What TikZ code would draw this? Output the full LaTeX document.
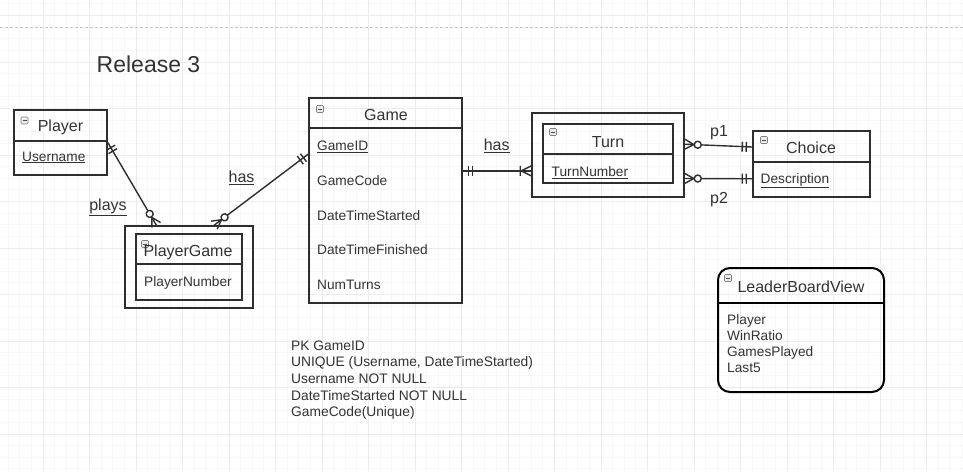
\documentclass[tikz,border=0pt]{standalone}
\usepackage{fontspec}
\setmainfont{Liberation Sans}
\usetikzlibrary{decorations.markings}
\definecolor{erline}{HTML}{2E2E2E}
\definecolor{ertext}{HTML}{333333}
\definecolor{gridminor}{HTML}{F7F7F7}
\definecolor{gridmajor}{HTML}{ECECEC}
\definecolor{pageline}{HTML}{C8C8C8}

\tikzset{
  entity/.style={draw=erline, line width=1.5pt, inner sep=0pt},
  board/.style={draw=black, line width=2pt, rounded corners=12pt, inner sep=0pt},
  title/.style={anchor=base, font=\fontsize{16}{19}\selectfont, text=ertext, inner sep=0pt},
  field/.style={anchor=base west, font=\fontsize{13.7}{16}\selectfont, text=ertext, inner sep=0pt},
  rellabel/.style={anchor=base, font=\fontsize{16}{19}\selectfont, text=ertext, inner sep=0pt},
  rel/.style={draw=erline, line width=1.4pt},
  boxicon/.style={draw=gray, fill=gray!15, rounded corners=1pt, minimum size=7pt, inner sep=0pt, line width=0.6pt,
    path picture={\draw[gray!60!black, line width=1pt] ([xshift=1.5pt]path picture bounding box.west) -- ([xshift=-1.5pt]path picture bounding box.east);}},
  % ER end marks
  one one/.style={postaction={decorate, decoration={markings, mark=at position 0 with {
    \draw[erline, line width=1.4pt] (6pt,-5pt) -- (6pt,5pt) (10pt,-5pt) -- (10pt,5pt);}}}},
  zero many/.style={postaction={decorate, decoration={markings, mark=at position 1 with {
    \draw[erline, line width=1.4pt] (-9pt,0pt) -- (0pt,5pt) (-9pt,0pt) -- (0pt,-5pt);
    \draw[erline, line width=1.4pt, fill=white] (-13pt,0pt) circle (3.5pt);}}}},
  one many/.style={postaction={decorate, decoration={markings, mark=at position 1 with {
    \draw[erline, line width=1.4pt] (-10pt,0pt) -- (0pt,5pt) (-10pt,0pt) -- (0pt,-5pt) (-11pt,-5pt) -- (-11pt,5pt);}}}}
}

\begin{document}
\begin{tikzpicture}[x=1pt,y=-1pt]
\useasboundingbox (0,0) rectangle (963,471);
\fill[white] (0,0) rectangle (963,471);

% grid
\foreach \gx in {-3.5,8.125,...,963} \draw[gridminor, line width=0.8pt] (\gx,0) -- (\gx,471);
\foreach \gy in {3.875,15.5,...,471} \draw[gridminor, line width=0.8pt] (0,\gy) -- (963,\gy);
\foreach \gx in {-3.5,43,...,963} \draw[gridmajor, line width=0.9pt] (\gx,0) -- (\gx,471);
\foreach \gy in {15.5,62,...,471} \draw[gridmajor, line width=0.9pt] (0,\gy) -- (963,\gy);
\draw[pageline, line width=0.9pt, dash pattern=on 3pt off 2pt] (0,27) -- (963,27);

\node[anchor=base, font=\fontsize{23}{27}\selectfont, text=ertext, inner sep=0pt] (release) at (148.5,72) {Release 3};

% entities
\node[entity, minimum width=93, minimum height=65] (player) at (60.5,142.5) {};
\draw[erline, line width=1.5pt] (14,141) -- (107,141);
\node[boxicon] (playericon) at (24.5,120.5) {};
\node[title] (playertitle) at (60.5,131.5) {Player};
\node[field] (username) at (22,161) {\underline{Username}};

\node[entity, minimum width=128, minimum height=82] (playergame) at (189,267) {};
\node[entity, minimum width=106, minimum height=66] (playergameinner) at (189,267) {};
\draw[erline, line width=1.5pt] (136,264) -- (242,264);
\node[boxicon] (pgicon) at (145,244) {};
\node[title] (pgtitle) at (188,256.5) {PlayerGame};
\node[field, anchor=base] (playernumber) at (188,286) {PlayerNumber};

\node[entity, minimum width=153, minimum height=205] (game) at (385.5,200.5) {};
\draw[erline, line width=1.5pt] (309,128) -- (462,128);
\node[boxicon] (gameicon) at (320,109) {};
\node[title] (gametitle) at (386,120.5) {Game};
\node[field] (gameid) at (317,150.5) {\underline{GameID}};
\foreach \fname [count=\k] in {GameCode,DateTimeStarted,DateTimeFinished,NumTurns}
  \node[field] (gamefield\k) at (317,150.5+34.75*\k) {\fname};

\node[entity, minimum width=152, minimum height=84] (turn) at (608,155) {};
\node[entity, minimum width=130, minimum height=59] (turninner) at (608,153.5) {};
\draw[erline, line width=1.5pt] (543,154) -- (673,154);
\node[boxicon] (turnicon) at (553,132) {};
\node[title] (turntitle) at (608,147.3) {Turn};
\node[field] (turnnumber) at (551.5,176.7) {\underline{TurnNumber}};

\node[entity, minimum width=117, minimum height=66] (choice) at (811.5,164) {};
\draw[erline, line width=1.5pt] (753,162) -- (870,162);
\node[boxicon] (choiceicon) at (764,140) {};
\node[title] (choicetitle) at (811,153.3) {Choice};
\node[field] (description) at (760.5,183) {\underline{Description}};

\node[board, minimum width=166, minimum height=124] (leaderboard) at (801,330) {};
\draw[black, line width=2pt] (718,303) -- (884,303);
\node[boxicon] (boardicon) at (728,278) {};
\node[title] (boardtitle) at (801,292.3) {LeaderBoardView};
\foreach \fname [count=\k] in {Player,WinRatio,GamesPlayed,Last5}
  \node[field] (boardfield\k) at (727,308.3+16*\k) {\fname};

% notes
\node[font=\fontsize{13.8}{16.6}\selectfont, text=ertext, anchor=north west, align=left, inner sep=0pt] (rules) at (291,340.5)
  {PK GameID\\UNIQUE (Username, DateTimeStarted)\\Username NOT NULL\\DateTimeStarted NOT NULL\\GameCode(Unique)};

% relationships
\draw[rel, one one, zero many] (player.east) -- (playergame.128);
\draw[rel, one one, zero many] (game.149) -- (playergame.59);
\draw[rel, one one, one many] (game.21.7) -- (game.21.7 -| turn.west);
\draw[rel, one one, zero many] (choice.164.7) -- (turn.8.2);
\draw[rel, one one, zero many] (choice.194.4) -- (turn.-17.5);

\node[rellabel] (plays) at (108,210.7) {\underline{plays}};
\node[rellabel] (has1) at (241.5,182.7) {\underline{has}};
\node[rellabel] (has2) at (496.7,150.7) {\underline{has}};
\node[rellabel] (p1) at (719,136.5) {p1};
\node[rellabel] (p2) at (719,203) {p2};
\end{tikzpicture}
\end{document}
